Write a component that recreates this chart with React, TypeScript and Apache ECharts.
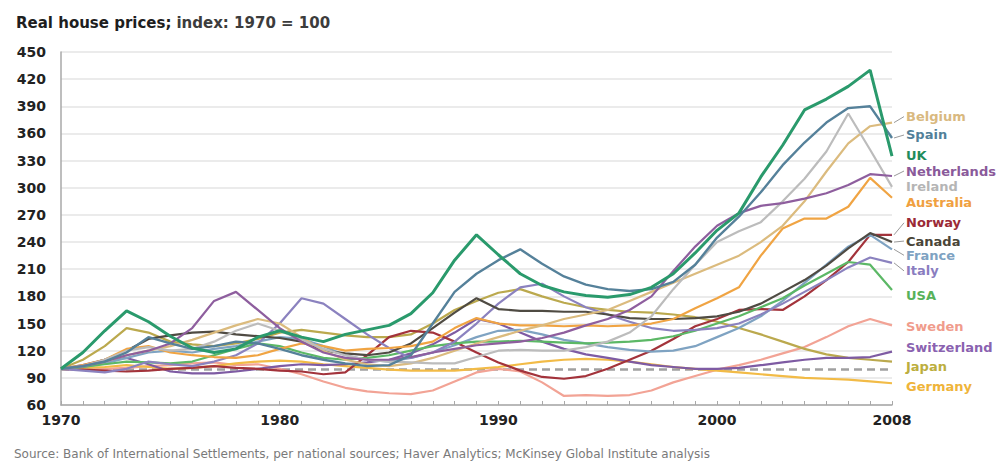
import React, { useEffect, useRef } from "react";
import * as echarts from "echarts";

const years = [
  "1970","1971","1972","1973","1974","1975","1976","1977","1978","1979",
  "1980","1981","1982","1983","1984","1985","1986","1987","1988","1989",
  "1990","1991","1992","1993","1994","1995","1996","1997","1998","1999",
  "2000","2001","2002","2003","2004","2005","2006","2007","2008",
];
const labeledYears = ["1970", "1980", "1990", "2000", "2008"];

const belgium = [100,103,108,115,120,125,132,140,148,155, 150,135,120,110,105,103,106,112,120,128, 135,142,148,155,160,165,175,185,195,205, 215,225,240,258,285,318,349,368,372];
const spain = [100,103,108,118,135,128,122,125,130,128, 122,115,110,106,103,104,115,150,185,205, 220,232,216,202,193,188,186,188,196,215, 245,268,295,325,350,372,388,390,355];
const uk = [100,118,142,164,152,136,123,118,122,135, 142,135,130,138,143,148,161,184,220,248, 226,205,192,185,181,179,182,190,205,228, 253,272,312,347,386,398,412,430,335];
const netherlands = [100,103,108,115,120,128,145,175,185,165, 145,130,118,112,110,110,113,118,122,126, 128,130,134,140,148,155,165,180,208,235, 258,272,280,283,288,294,303,315,313];
const ireland = [100,103,110,120,124,120,122,130,142,150, 142,132,122,115,110,108,107,106,106,113, 120,121,120,120,124,130,140,158,188,215, 240,252,262,285,310,340,382,342,301];
const australia = [100,104,110,122,125,118,115,113,112,115, 122,128,125,120,122,123,125,130,145,156, 150,148,148,147,148,147,148,150,155,167, 178,190,225,255,266,266,279,311,289];
const norway = [100,99,98,97,98,100,101,103,101,100, 98,97,94,96,115,135,142,140,130,118, 107,98,91,89,92,100,110,120,133,147, 155,165,166,165,180,198,218,248,248];
const canada = [100,103,110,120,133,137,140,141,138,136, 134,130,120,117,115,118,128,145,162,178, 166,164,164,163,163,160,156,155,155,156, 158,163,172,185,198,214,233,250,240];
const france = [100,102,106,112,118,120,118,122,125,130, 135,133,125,115,110,108,112,118,126,135, 142,143,138,132,128,124,121,119,120,125, 135,145,158,175,195,215,235,248,232];
const italy = [100,98,96,100,108,105,103,108,115,128, 150,178,172,155,138,123,112,118,130,150, 172,190,194,180,168,160,152,145,142,143, 145,150,160,172,185,198,212,223,217];
const usa = [100,102,105,108,107,106,108,115,122,128, 125,118,112,110,112,115,120,125,128,130, 130,131,130,129,128,129,130,132,136,142, 150,158,168,178,192,205,218,215,187];
const sweden = [100,99,100,101,103,104,106,107,104,105, 100,94,86,79,75,73,72,76,86,96, 100,97,85,70,71,70,71,76,85,92, 99,104,110,117,124,135,147,155,148];
const switzerland = [100,104,110,112,105,97,95,95,97,100, 103,105,104,105,107,110,117,127,140,155, 150,140,130,122,116,112,108,104,102,100, 100,101,104,107,110,112,112,113,119];
const japan = [100,110,125,145,140,130,127,125,128,133, 140,143,140,137,135,135,138,150,165,175, 184,188,180,173,168,165,163,162,160,157, 152,145,138,130,122,116,112,110,108];
const germany = [100,101,102,104,102,100,101,103,106,108, 109,108,105,103,101,99,98,98,98,100, 102,105,108,110,111,110,108,105,102,100, 98,96,94,92,90,89,88,86,84];
const baseIndex = 100;

const FONT = "DejaVu Sans";
const LABEL_GAP = 14;

const seriesDefs = [
  { name: "Sweden", data: sweden, color: "#f2a395", label: "#f09c8c", dy: 1, width: 2.2, leader: false },
  { name: "Germany", data: germany, color: "#f2bb47", label: "#efb43a", dy: 3, width: 2.2, leader: false },
  { name: "Japan", data: japan, color: "#bba94e", label: "#bcae3e", dy: 5, width: 2.2, leader: false },
  { name: "Switzerland", data: switzerland, color: "#7e5ba3", label: "#8a62b0", dy: -4, width: 2.2, leader: false },
  { name: "Norway", data: norway, color: "#a3333b", label: "#9b2a36", dy: -12, width: 2.2, leader: true },
  { name: "France", data: france, color: "#7fa3c2", label: "#7ea2c2", dy: 6, width: 2.2, leader: true },
  { name: "USA", data: usa, color: "#5cb866", label: "#58b25a", dy: 5, width: 2.2, leader: false },
  { name: "Italy", data: italy, color: "#8b82bf", label: "#8a7dc0", dy: 8, width: 2.2, leader: true },
  { name: "Canada", data: canada, color: "#4f4b43", label: "#4a4538", dy: -1, width: 2.2, leader: true },
  { name: "Australia", data: australia, color: "#f0a443", label: "#f0a040", dy: 5, width: 2.2, leader: false },
  { name: "Belgium", data: belgium, color: "#dbbb7e", label: "#d9b97f", dy: -6, width: 2.2, leader: true },
  { name: "Ireland", data: ireland, color: "#bcbcbc", label: "#b5b5b5", dy: 0, width: 2.2, leader: false },
  { name: "Netherlands", data: netherlands, color: "#8e5e9e", label: "#8a5a9a", dy: -5, width: 2.2, leader: true },
  { name: "Spain", data: spain, color: "#55819a", label: "#527f99", dy: -3, width: 2.4, leader: true },
  { name: "UK", data: uk, color: "#2a9a6c", label: "#1f8c5c", dy: -1, width: 3, leader: false },
];

export default function App() {
  const ref = useRef<HTMLDivElement>(null);

  useEffect(() => {
    document.body.style.margin = "0";
    if (!ref.current) return;
    const chart = echarts.init(ref.current, undefined, { renderer: "svg" });

    const series: any[] = seriesDefs.map((s, i) => ({
      name: s.name,
      type: "line",
      data: s.data,
      showSymbol: false,
      symbol: "none",
      smooth: false,
      z: 2 + i,
      lineStyle: { color: s.color, width: s.width },
      itemStyle: { color: s.color },
      endLabel: {
        show: true,
        formatter: s.name,
        distance: LABEL_GAP,
        offset: [0, s.dy],
        color: s.label,
        fontFamily: FONT,
        fontWeight: "bold",
        fontSize: 13,
        lineHeight: 13,
      },
      emphasis: { disabled: true },
    }));

    series[1].markLine = {
      silent: true,
      symbol: "none",
      label: { show: false },
      z: 1,
      lineStyle: { type: [8, 5], color: "#a0a0a0", width: 2.5 },
      data: [{ yAxis: baseIndex }],
    };

    chart.setOption({
      animation: false,
      title: [
        {
          text: "{a|Real house prices;} {b|index: 1970 = 100}",
          left: 11,
          top: 9,
          textStyle: {
            rich: {
              a: { fontFamily: FONT, fontWeight: "bold", fontSize: 15, color: "#1e1e1e" },
              b: { fontFamily: FONT, fontWeight: "bold", fontSize: 15, color: "#3c3c3c" },
            },
          },
        },
        {
          text: "Source: Bank of International Settlements, per national sources; Haver Analytics; McKinsey Global Institute analysis",
          left: 9,
          top: 443,
          textStyle: { fontFamily: FONT, fontWeight: "normal", fontSize: 12, color: "#7a7a7a" },
        },
      ],
      grid: { left: 61, right: 105, top: 52, bottom: 59, containLabel: false },
      xAxis: {
        type: "category",
        data: years,
        boundaryGap: false,
        axisLine: { lineStyle: { color: "#a8a8a8", width: 1.5 } },
        axisTick: { show: true, inside: true, length: 4, interval: 0, lineStyle: { color: "#a8a8a8" } },
        axisLabel: {
          interval: (_i: number, v: string) => labeledYears.includes(v),
          fontFamily: FONT,
          fontWeight: "bold",
          fontSize: 14,
          color: "#222",
          margin: 8,
        },
        splitLine: { show: false },
      },
      yAxis: {
        type: "value",
        min: 60,
        max: 450,
        interval: 30,
        axisLine: { show: true, lineStyle: { color: "#a8a8a8", width: 1.5 } },
        axisTick: { show: false },
        splitLine: { lineStyle: { color: "#e4e4e4", width: 1.5 } },
        axisLabel: { fontFamily: FONT, fontWeight: "bold", fontSize: 14, color: "#222", margin: 15 },
      },
      series,
    });

    // short grey leader lines from each line's end to its shifted label
    const leaders: any[] = [];
    seriesDefs.forEach((s, i) => {
      if (!s.leader) return;
      const last = s.data.length - 1;
      const p = chart.convertToPixel({ seriesIndex: i }, [last, s.data[last]]) as number[];
      if (!p) return;
      leaders.push({
        type: "line",
        silent: true,
        z: 50,
        shape: { x1: p[0] + 2, y1: p[1], x2: p[0] + LABEL_GAP - 2, y2: p[1] + s.dy },
        style: { stroke: "#9a9a9a", lineWidth: 1 },
      });
    });
    chart.setOption({ graphic: leaders });

    return () => chart.dispose();
  }, []);

  return <div ref={ref} style={{ width: 997, height: 464 }} />;
}
